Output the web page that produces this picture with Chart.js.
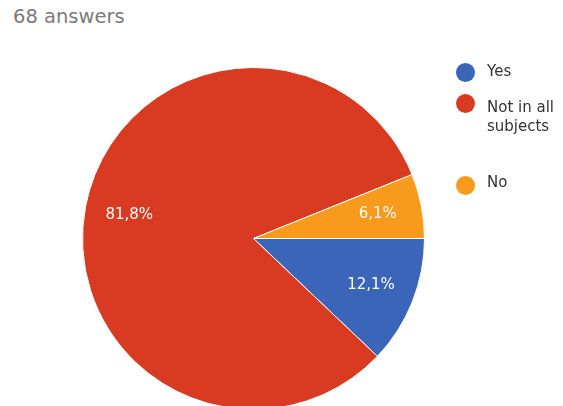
<!DOCTYPE html>
<html>
<head>
<meta charset="utf-8">
<script src="https://cdn.jsdelivr.net/npm/chart.js@4/dist/chart.umd.min.js"></script>
<style>
  html, body { margin: 0; padding: 0; background: #fff; overflow: hidden; }
  body { width: 563px; height: 406px; position: relative; font-family: "DejaVu Sans", sans-serif; }
  #title { position: absolute; left: 13px; top: 5px; font-size: 19.5px; color: #7a7a7a; }
  #wrap { position: absolute; left: 0; top: 0; width: 563px; height: 420px; }
  .dot { position: absolute; left: 456px; width: 19px; height: 19px; border-radius: 50%; }
  .txt { position: absolute; left: 487px; font-size: 15px; color: #333; line-height: 19px; white-space: nowrap; }
</style>
</head>
<body>
<div id="title">68 answers</div>
<div id="wrap"><canvas id="chart1"></canvas></div>
<div id="legend"></div>
<script>
  const labels = ['Yes', 'Not in all subjects', 'No'];
  const legendLines = [['Yes'], ['Not in all', 'subjects'], ['No']];
  const values = [12.1, 81.8, 6.1];
  const colors = ['#3b65b8', '#d93b22', '#f89a1c'];

  // legend layout (px)
  const dotTops = [63, 94, 176];
  const textTops = [62, 98, 173];

  var legend = document.getElementById('legend');
  for (var i = 0; i < labels.length; i++) {
    var dot = document.createElement('div');
    dot.className = 'dot';
    dot.style.top = dotTops[i] + 'px';
    dot.style.background = colors[i];
    legend.appendChild(dot);
    var t = document.createElement('div');
    t.className = 'txt';
    t.style.top = textTops[i] + 'px';
    t.innerHTML = legendLines[i].join('<br>');
    legend.appendChild(t);
  }

  var sliceLabels = {
    id: 'sliceLabels',
    afterDatasetsDraw(chart) {
      var ctx = chart.ctx;
      var meta = chart.getDatasetMeta(0);
      ctx.save();
      ctx.fillStyle = '#fff';
      ctx.font = '15px "DejaVu Sans", sans-serif';
      ctx.textAlign = 'center';
      ctx.textBaseline = 'middle';
      meta.data.forEach(function(arc, idx) {
        var mid = (arc.startAngle + arc.endAngle) / 2;
        var r = arc.outerRadius * 0.74;
        var x = arc.x + Math.cos(mid) * r;
        var y = arc.y + Math.sin(mid) * r;
        ctx.fillText(values[idx].toFixed(1).replace('.', ',') + '%', x, y);
      });
      ctx.restore();
    }
  };

  new Chart(document.getElementById('chart1'), {
    type: 'pie',
    data: {
      labels: labels,
      datasets: [{
        data: values,
        backgroundColor: colors,
        borderColor: '#fff',
        borderWidth: 1
      }]
    },
    options: {
      responsive: true,
      maintainAspectRatio: false,
      animation: false,
      rotation: 90,
      layout: { padding: { left: 82, right: 138, top: 67, bottom: 10 } },
      plugins: {
        legend: { display: false },
        tooltip: { enabled: false }
      }
    },
    plugins: [sliceLabels]
  });
</script>
</body>
</html>
